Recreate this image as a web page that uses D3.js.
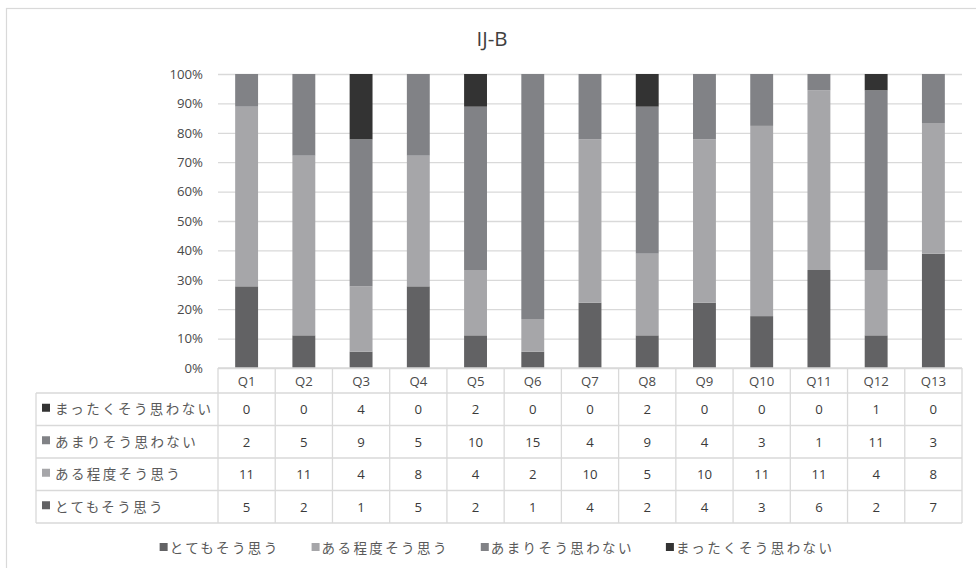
<!DOCTYPE html>
<html>
<head>
<meta charset="utf-8">
<script src="https://cdn.jsdelivr.net/npm/d3@7"></script>
<style>
  html, body { margin: 0; padding: 0; background: #fff; }
  svg { display: block; }
  .lat { font-family: "Open Sans", "Noto Sans", sans-serif; }
  .jp { font-family: "Noto Sans CJK JP", sans-serif; }
</style>
</head>
<body>
<svg id="chart" width="976" height="568"></svg>
<script>
// Survey results per question (counts of respondents)
const questions = ["Q1","Q2","Q3","Q4","Q5","Q6","Q7","Q8","Q9","Q10","Q11","Q12","Q13"];
const seriesNames = ["とてもそう思う", "ある程度そう思う", "あまりそう思わない", "まったくそう思わない"];
const totemo   = [5, 2, 1, 5, 2, 1, 4, 2, 4, 3, 6, 2, 7];
const aruteido = [11, 11, 4, 8, 4, 2, 10, 5, 10, 11, 11, 4, 8];
const amari    = [2, 5, 9, 5, 10, 15, 4, 9, 4, 3, 1, 11, 3];
const mattaku  = [0, 0, 4, 0, 2, 0, 0, 2, 0, 0, 0, 1, 0];
const yTicks = [0, 0.1, 0.2, 0.3, 0.4, 0.5, 0.6, 0.7, 0.8, 0.9, 1.0];
const title = "IJ-B";

const seriesValues = [totemo, aruteido, amari, mattaku];
const colors = ["#626264", "#a6a6a9", "#818286", "#333333"];

const rows = questions.map((q, i) => {
  const r = { q };
  seriesNames.forEach((s, k) => { r[s] = seriesValues[k][i]; });
  return r;
});

const svg = d3.select("#chart");
const W = 976, H = 568;
const plot = { left: 218, right: 962, top: 74, bottom: 368 };
const tableLeft = 36;
const headerH = 25, rowH = 32.5;
const gridColor = "#d9d9d9";
const textColor = "#595959";

// outer frame
svg.append("rect")
  .attr("x", 6.5).attr("y", 8.5)
  .attr("width", W + 10).attr("height", H + 10)
  .attr("fill", "#fff").attr("stroke", gridColor).attr("stroke-width", 1.2);

// title
svg.append("text").attr("class", "lat")
  .attr("x", 492).attr("y", 46)
  .attr("text-anchor", "middle")
  .attr("font-size", 20.5).attr("fill", "#404040")
  .text(title);

const x = d3.scaleBand().domain(questions).range([plot.left, plot.right]).padding(0);
const y = d3.scaleLinear().domain([0, 1]).range([plot.bottom, plot.top]);
const barW = x.bandwidth() / 2.5;

// gridlines + y tick labels
const yAxis = d3.axisLeft(y).tickValues(yTicks).tickFormat(d3.format(".0%"))
  .tickSize(-(plot.right - plot.left)).tickPadding(15);
const gy = svg.append("g").attr("transform", `translate(${plot.left},0)`).call(yAxis);
gy.select(".domain").remove();
gy.selectAll(".tick line").attr("stroke", gridColor).attr("stroke-width", 1.3);
gy.selectAll(".tick text").attr("class", "lat").attr("font-size", 13.2).attr("fill", "#4a4a4a");

// stacked 100% bars
const stack = d3.stack().keys(seriesNames).offset(d3.stackOffsetExpand);
const layers = stack(rows);
svg.append("g").selectAll("g").data(layers).join("g")
  .attr("fill", (d, i) => colors[i])
  .selectAll("rect").data(d => d).join("rect")
  .attr("x", d => x(d.data.q) + (x.bandwidth() - barW) / 2)
  .attr("width", barW)
  .attr("y", d => y(d[1]))
  .attr("height", d => y(d[0]) - y(d[1]));

// data table
const tableRows = seriesNames.slice().reverse();
const tableTop = plot.bottom;
const bodyTop = tableTop + headerH;
const tableBottom = bodyTop + rowH * tableRows.length;
const tg = svg.append("g");

// horizontal lines
tg.append("line").attr("x1", plot.left).attr("x2", plot.right)
  .attr("y1", tableTop).attr("y2", tableTop).attr("stroke", gridColor).attr("stroke-width", 1.3);
d3.range(tableRows.length + 1).forEach(i => {
  const yy = bodyTop + i * rowH;
  tg.append("line").attr("x1", tableLeft).attr("x2", plot.right)
    .attr("y1", yy).attr("y2", yy).attr("stroke", gridColor).attr("stroke-width", 1.3);
});
// vertical lines
tg.append("line").attr("x1", tableLeft).attr("x2", tableLeft)
  .attr("y1", bodyTop).attr("y2", tableBottom).attr("stroke", gridColor).attr("stroke-width", 1.3);
questions.concat([null]).forEach((q, i) => {
  const xx = q ? x(q) : plot.right;
  tg.append("line").attr("x1", xx).attr("x2", xx)
    .attr("y1", tableTop).attr("y2", tableBottom).attr("stroke", gridColor).attr("stroke-width", 1.3);
});

// header labels
tg.selectAll("text.hdr").data(questions).join("text")
  .attr("class", "lat hdr")
  .attr("x", d => x(d) + x.bandwidth() / 2)
  .attr("y", tableTop + headerH / 2 + 5)
  .attr("text-anchor", "middle").attr("font-size", 13.2).attr("fill", "#4a4a4a")
  .text(d => d);

// row labels with legend keys, and values
tableRows.forEach((s, r) => {
  const k = seriesNames.indexOf(s);
  const cy = bodyTop + r * rowH + rowH / 2;
  tg.append("rect").attr("x", 42).attr("y", cy - 5.5).attr("width", 8).attr("height", 8)
    .attr("fill", colors[k]);
  tg.append("text").attr("class", "jp")
    .attr("x", 55).attr("y", cy + 5)
    .attr("font-size", 13.5).attr("letter-spacing", 2.4).attr("fill", textColor)
    .text(s);
  tg.selectAll(null).data(rows).join("text")
    .attr("class", "lat")
    .attr("x", d => x(d.q) + x.bandwidth() / 2)
    .attr("y", cy + 5)
    .attr("text-anchor", "middle").attr("font-size", 13.2).attr("fill", "#3a3a3a")
    .text(d => d[s]);
});

// legend
const lg = svg.append("g");
const legendY = 548, gap = 32;
let cursor = 0;
const items = seriesNames.map((s, k) => {
  const g = lg.append("g");
  g.append("rect").attr("x", 0).attr("y", -5).attr("width", 8).attr("height", 8).attr("fill", colors[k]);
  const t = g.append("text").attr("class", "jp")
    .attr("x", 10).attr("y", 5)
    .attr("font-size", 13.5).attr("letter-spacing", 2.4).attr("fill", textColor)
    .text(s);
  const w = 10 + t.node().getComputedTextLength();
  const pos = cursor;
  cursor += w + gap;
  return { g, pos };
});
const totalW = cursor - gap;
const start = 497 - totalW / 2;
items.forEach(it => it.g.attr("transform", `translate(${start + it.pos},${legendY})`));
</script>
</body>
</html>
